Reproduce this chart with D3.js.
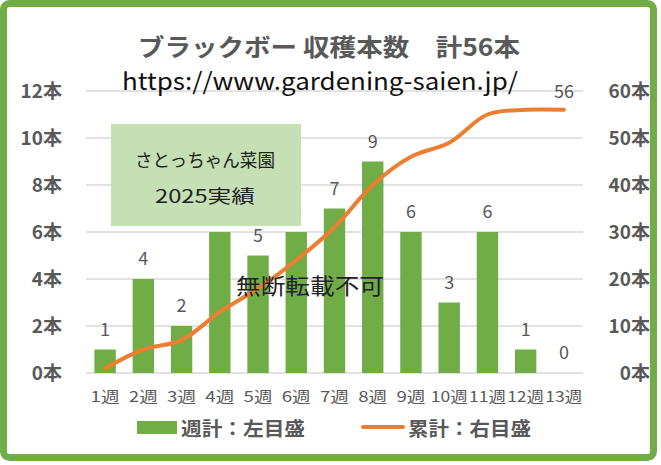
<!DOCTYPE html>
<html>
<head>
<meta charset="utf-8">
<script src="https://cdn.jsdelivr.net/npm/d3@7"></script>
<style>
  body { margin: 0; background: #fff; }
  text { font-family: "Noto Sans CJK JP", "Noto Sans", sans-serif; }
</style>
</head>
<body>
<div id="chart"></div>
<script>
// data
let weeks = ["1週","2週","3週","4週","5週","6週","7週","8週","9週","10週","11週","12週","13週"];
let weekly = [1, 4, 2, 6, 5, 6, 7, 9, 6, 3, 6, 1, 0];
let cumulative = [1, 5, 7, 13, 18, 24, 31, 40, 46, 49, 55, 56, 56];
let leftTicks = [0, 2, 4, 6, 8, 10, 12];
let rightTicks = [0, 10, 20, 30, 40, 50, 60];

let width = 661;
let height = 465;
let margin = {top: 91, bottom: 92, left: 86, right: 78};

let svg = d3.select("#chart")
    .append("svg")
    .attr("width", width)
    .attr("height", height);

// outer frame
svg.append("rect")
    .attr("x", 3.5).attr("y", 3.5)
    .attr("width", width - 11).attr("height", height - 11)
    .attr("rx", 6)
    .attr("fill", "#fff")
    .attr("stroke", "#70AD47")
    .attr("stroke-width", 7);

let x = d3.scaleBand()
    .domain(weeks)
    .range([margin.left, width - margin.right])
    .paddingInner(0.44)
    .paddingOuter(0.22);

let y = d3.scaleLinear()
    .domain([0, 12])
    .range([height - margin.bottom, margin.top]);

let y2 = d3.scaleLinear()
    .domain([0, 60])
    .range([height - margin.bottom, margin.top]);

// helper for text with fixed width
function label(t, px, py, size, opts) {
    opts = opts || {};
    let el = svg.append("text")
        .attr("x", px).attr("y", py)
        .attr("font-size", size + "px")
        .attr("fill", opts.fill || "#595959")
        .attr("font-weight", opts.bold ? "bold" : null)
        .text(t);
    if (opts.len) el.attr("textLength", opts.len).attr("lengthAdjust", "spacingAndGlyphs");
    return el;
}

// gridlines
svg.append("g")
    .selectAll("line")
    .data(leftTicks)
    .join("line")
        .attr("x1", margin.left)
        .attr("x2", width - margin.right)
        .attr("y1", d => y(d))
        .attr("y2", d => y(d))
        .attr("stroke", "#d9d9d9")
        .attr("stroke-width", d => d === 0 ? 1.6 : 1.3);

// left axis
svg.append("g")
    .selectAll("text")
    .data(leftTicks)
    .join("text")
        .attr("x", 62)
        .attr("y", d => y(d))
        .attr("dy", "0.36em")
        .attr("text-anchor", "end")
        .attr("font-size", "19px")
        .attr("font-weight", "bold")
        .attr("fill", "#595959")
        .text(d => d + "本");

// right axis
svg.append("g")
    .selectAll("text")
    .data(rightTicks)
    .join("text")
        .attr("x", 650)
        .attr("y", d => y2(d))
        .attr("dy", "0.36em")
        .attr("text-anchor", "end")
        .attr("font-size", "19px")
        .attr("font-weight", "bold")
        .attr("fill", "#595959")
        .text(d => d + "本");

// bars
svg.append("g")
    .attr("fill", "#70AD47")
    .selectAll("rect")
    .data(weekly)
    .join("rect")
        .attr("x", (d, i) => x(weeks[i]))
        .attr("y", d => y(d))
        .attr("width", x.bandwidth())
        .attr("height", d => y(0) - y(d));

// bar labels
svg.append("g")
    .selectAll("text")
    .data(weekly)
    .join("text")
        .attr("x", (d, i) => x(weeks[i]) + x.bandwidth() / 2)
        .attr("y", d => y(d) - 14)
        .attr("text-anchor", "middle")
        .attr("font-size", "18px")
        .attr("fill", "#595959")
        .text(d => d);

// x axis labels
svg.append("g")
    .selectAll("text")
    .data(weeks)
    .join("text")
        .attr("x", d => x(d) + x.bandwidth() / 2)
        .attr("y", 402)
        .attr("text-anchor", "middle")
        .attr("font-size", "15px")
        .attr("fill", "#595959")
        .attr("textLength", d => d.length > 2 ? 37 : 29)
        .attr("lengthAdjust", "spacingAndGlyphs")
        .text(d => d);

// cumulative line
let line = d3.line()
    .x((d, i) => x(weeks[i]) + x.bandwidth() / 2)
    .y(d => y2(d))
    .curve(d3.curveCatmullRom.alpha(0.5));

svg.append("path")
    .datum(cumulative)
    .attr("fill", "none")
    .attr("stroke", "#ED7D31")
    .attr("stroke-width", 4)
    .attr("stroke-linecap", "round")
    .attr("d", line);

let last = cumulative.length - 1;
svg.append("text")
    .attr("x", x(weeks[last]) + x.bandwidth() / 2)
    .attr("y", y2(cumulative[last]) - 12)
    .attr("text-anchor", "middle")
    .attr("font-size", "18px")
    .attr("fill", "#595959")
    .text(cumulative[last]);

// note box
svg.append("rect")
    .attr("x", 111).attr("y", 124)
    .attr("width", 190).attr("height", 102)
    .attr("fill", "#C5E0B4");

label("さとっちゃん菜園", 135, 167, 18, {fill: "#222", len: 140});
label("2025実績", 155, 203, 18, {fill: "#222", len: 100});
label("無断転載不可", 236, 294, 22, {fill: "#222", len: 148});

// title
label("ブラックボー 収穫本数　計56本", 138, 56, 24, {bold: true, len: 382});
label("https://www.gardening-saien.jp/", 122, 90, 24, {fill: "#111", len: 396});

// legend
svg.append("rect")
    .attr("x", 137).attr("y", 421)
    .attr("width", 40).attr("height", 13)
    .attr("fill", "#70AD47");

label("週計：左目盛", 181, 436, 19, {bold: true, len: 124});

svg.append("line")
    .attr("x1", 363).attr("x2", 403)
    .attr("y1", 427).attr("y2", 427)
    .attr("stroke", "#ED7D31")
    .attr("stroke-width", 4)
    .attr("stroke-linecap", "round");

label("累計：右目盛", 408, 436, 19, {bold: true, len: 123});
</script>
</body>
</html>
